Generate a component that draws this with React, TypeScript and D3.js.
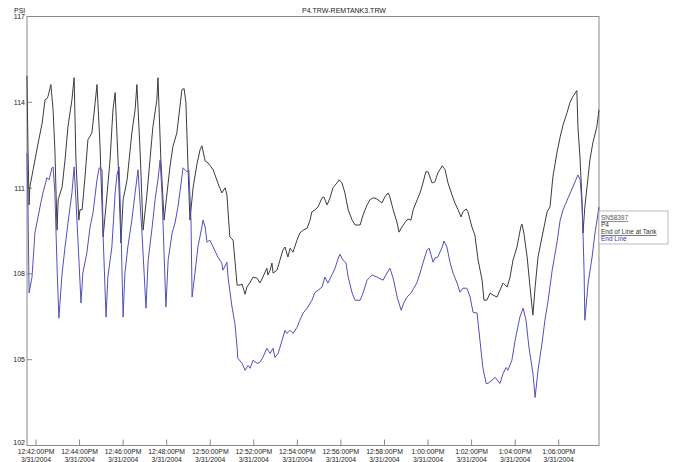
import React from "react";
import * as d3 from "d3";

// seconds after 12:42:00 PM, 3/31/2004 and pressure (PSI)
const blackT = [-25,-22,-19,-17,-8,6,17,25,30,33,41,47,52,58,61,72,80,88,99,105,110,118,121,127,135,143,154,163,168,176,185,196,204,212,218,226,234,240,251,264,273,278,287,295,306,314,322,333,336,344,353,361,369,377,388,402,408,413,419,424,433,444,452,457,466,474,488,501,512,521,526,534,543,548,554,562,568,570,576,581,590,598,609,617,625,636,639,645,650,653,664,672,680,686,694,700,708,719,727,736,747,755,760,769,777,788,793,802,810,818,829,835,843,851,860,871,879,893,901,912,920,928,939,953,961,970,975,984,995,1000,1008,1017,1025,1033,1039,1050,1058,1066,1074,1080,1091,1099,1107,1119,1127,1135,1146,1154,1163,1171,1176,1185,1190,1201,1209,1218,1229,1234,1242,1251,1259,1270,1278,1287,1298,1306,1314,1325,1336,1339,1344,1353,1361,1369,1375,1383,1394,1408,1416,1424,1435,1444,1452,1463,1471,1479,1490,1493,1499,1504,1507,1512,1518,1526,1534,1545,1551];
const blackV = [114.93,112.34,110.41,111.04,111.64,112.58,113.28,114.09,114.13,114.2,114.62,113.74,112.34,109.53,110.59,111.04,111.99,113.14,114.09,114.86,111.99,109.88,110.24,110.24,111.39,112.69,112.93,113.99,114.62,112.58,109.29,110.83,111.99,113.74,114.34,111.99,109.08,110.59,111.29,112.93,113.74,114.62,112.23,109.53,110.83,111.99,113.14,114.09,114.86,111.99,109.88,110.83,111.74,112.44,112.93,114.44,114.48,113.99,111.64,109.88,111.04,111.88,112.34,112.48,111.95,111.88,111.64,111.18,110.83,111.01,110.76,109.29,109.18,108.48,107.61,107.61,107.64,107.54,107.29,107.54,107.71,107.89,107.85,107.68,107.89,108.2,107.96,108.13,108.38,108.03,108.13,108.48,108.83,108.94,108.59,108.9,108.76,109.18,109.43,109.53,109.6,109.88,110.17,110.24,110.34,110.66,110.69,110.41,110.66,111.01,111.18,111.29,111.18,110.83,110.24,109.88,109.71,109.71,110.06,110.41,110.59,110.66,110.62,110.48,110.69,110.83,110.69,110.24,109.78,109.46,109.64,109.81,109.92,109.88,110.24,110.59,110.83,111.18,111.57,111.57,111.18,111.22,111.53,111.78,111.64,111.18,110.76,110.48,110.24,109.99,110.17,110.27,110.17,109.64,109.36,108.48,107.78,107.08,107.08,107.33,107.26,107.19,107.43,107.68,107.54,107.89,108.48,108.94,109.67,109.74,109.43,108.59,107.54,106.56,107.54,108.59,109.29,110.17,110.34,111.39,112.23,112.79,113.21,113.64,113.99,114.2,114.41,113.14,111.99,110.59,109.43,110.34,111.04,111.99,112.58,113.14,113.74];

const blueT = [-25,-22,-19,-11,-3,11,19,30,36,44,47,52,58,63,72,80,88,99,105,110,116,124,129,140,149,157,168,174,182,185,193,198,209,218,223,229,234,240,245,253,264,273,281,292,303,309,320,328,336,342,347,358,364,375,383,391,402,405,416,421,427,430,438,446,457,460,466,471,479,488,501,512,515,526,529,540,548,554,556,568,576,584,590,598,609,617,625,636,645,653,658,667,678,686,691,700,708,719,727,736,749,760,769,777,788,796,804,815,824,829,837,846,854,860,871,879,893,901,912,926,939,956,967,975,984,995,1006,1014,1022,1033,1041,1050,1058,1066,1077,1083,1094,1099,1107,1119,1124,1132,1141,1149,1160,1168,1176,1187,1196,1204,1215,1223,1231,1240,1245,1256,1265,1278,1287,1295,1300,1311,1320,1333,1342,1350,1358,1369,1375,1383,1394,1402,1411,1422,1435,1444,1452,1466,1479,1493,1499,1504,1507,1510,1512,1521,1532,1540,1551];
const blueV = [112.23,110.24,107.33,107.89,109.43,110.34,110.83,111.36,111.29,111.71,111.74,110.83,108.24,106.45,108.03,108.94,109.78,110.83,111.74,110.59,109.08,106.98,108.03,108.73,109.64,110.13,111.29,111.71,111.64,109.29,106.49,107.89,108.94,110.83,111.46,111.74,109.64,106.49,108.03,108.94,109.88,110.83,111.64,109.43,106.8,108.48,109.64,110.59,111.29,111.99,110.83,106.84,108.48,109.43,109.78,110.34,111.39,111.71,111.57,111.64,109.88,107.19,108.03,108.94,109.64,109.88,109.64,109.11,109.18,108.94,108.59,108.38,108.13,108.41,107.89,106.84,106.27,105.43,105.05,104.87,104.63,104.8,104.7,104.98,104.87,104.91,105.08,105.4,105.22,105.4,105.08,105.22,105.68,106.03,105.92,106.03,105.92,106.13,106.38,106.63,106.84,107.08,107.36,107.43,107.54,107.89,107.68,107.96,108.2,108.41,108.69,108.48,108.38,107.89,107.33,107.08,107.08,107.33,107.78,107.96,107.89,107.78,108.03,108.2,107.85,107.19,106.73,107.01,107.19,107.33,107.5,107.71,108.03,108.38,108.83,108.9,108.41,108.55,108.59,108.94,109.15,108.94,108.38,108.03,107.68,107.36,107.5,107.5,107.19,106.66,106.63,105.68,104.73,104.17,104.17,104.28,104.38,104.17,104.52,104.73,104.63,104.98,105.68,106.49,106.8,106.38,105.43,104.52,103.68,104.63,105.57,106.38,107.08,108.13,109.08,109.88,110.24,110.66,111.04,111.46,111.29,110.48,109.43,108.03,106.38,107.68,108.59,109.43,110.34];

const yTicks = [102, 105, 108, 111, 114, 117];
const xTickMinutes = [0, 2, 4, 6, 8, 10, 12, 14, 16, 18, 20, 22, 24];
const title = "P4.TRW-REMTANK3.TRW";
const yUnit = "PSI";
const legendLines = ["SN58397", "P4", "End of Line at Tank", "End Line"];

const W = 675, H = 462;
const L = 27, R = 599, T = 16.5, B = 445.5;
const start = new Date(2004, 2, 31, 12, 42, 0).getTime();
const FONT = "'Liberation Sans', Arial, sans-serif";

export default function App() {
  const x = d3.scaleTime()
    .domain([new Date(start - 24.8 * 1000), new Date(start + 1551 * 1000)])
    .range([L, R]);
  const y = d3.scaleLinear().domain([102, 117]).range([B, T]);
  const toPts = (ts: number[], vs: number[]) => ts.map((t, i) => [new Date(start + t * 1000), vs[i]] as [Date, number]);
  const line = d3.line<[Date, number]>().x(d => x(d[0])).y(d => y(d[1]));
  const fmtTime = d3.timeFormat("%-I:%M:%S%p");
  const fmtDate = d3.timeFormat("%-m/%-d/%Y");
  const ticks = xTickMinutes.map(m => new Date(start + m * 60000));

  return (
    <svg width={W} height={H} style={{ position: "absolute", left: 0, top: 0, background: "#fff" }} fontFamily={FONT}>
      <rect x={0} y={0} width={W} height={H} fill="#fff" />
      <text x={14} y={13} fontSize={7} fill="#222">{yUnit}</text>
      <text x={344} y={13} fontSize={7} fill="#222" textAnchor="middle">{title}</text>
      <rect x={L} y={T} width={R - L} height={B - T} fill="none" stroke="#8a8a8a" strokeWidth={1} />
      {yTicks.map(v => (
        <g key={v}>
          <line x1={L} x2={L + 5} y1={y(v)} y2={y(v)} stroke="#8a8a8a" />
          <text x={25} y={Math.min(y(v) + 2.5, 445)} fontSize={7} fill="#222" textAnchor="end">{v}</text>
        </g>
      ))}
      {ticks.map((d, i) => (
        <g key={i}>
          <line x1={x(d)} x2={x(d)} y1={B} y2={B - 6} stroke="#8a8a8a" />
          <text x={x(d)} y={454} fontSize={6.8} fill="#222" textAnchor="middle">{fmtTime(d)}</text>
          <text x={x(d)} y={461.5} fontSize={6.8} fill="#222" textAnchor="middle">{fmtDate(d)}</text>
        </g>
      ))}
      <path d={line(toPts(blackT, blackV)) || ""} fill="none" stroke="#3c3c3c" strokeWidth={1} />
      <path d={line(toPts(blueT, blueV)) || ""} fill="none" stroke="#5050bc" strokeWidth={1} />
      <rect x={R} y={211} width={69} height={33} fill="#fff" stroke="#aaa" strokeWidth={0.8} />
      <text x={601} y={220} fontSize={6.5} fill="#555" textDecoration="underline">{legendLines[0]}</text>
      <text x={601} y={227} fontSize={6.5} fill="#333">{legendLines[1]}</text>
      <text x={601} y={234} fontSize={6.5} fill="#333" textDecoration="underline">{legendLines[2]}</text>
      <text x={601} y={241} fontSize={6.5} fill="#3a3ab8">{legendLines[3]}</text>
    </svg>
  );
}
